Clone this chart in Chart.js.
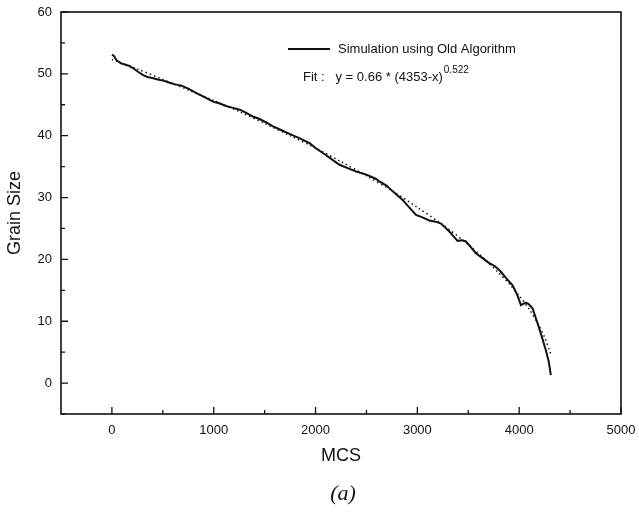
<!DOCTYPE html>
<html>
<head>
<meta charset="utf-8">
<script src="https://cdn.jsdelivr.net/npm/chart.js@4/dist/chart.umd.min.js"></script>
<style>
  html, body { margin: 0; padding: 0; background: #fff; }
  #wrap { position: relative; width: 639px; height: 517px; }
  #caption {
    position: absolute; left: 0; width: 686px; top: 480px;
    text-align: center; font: italic 22px "Liberation Serif", "DejaVu Serif", serif; color: #111;
  }
</style>
</head>
<body>
<div id="wrap">
  <canvas id="grainChart" width="639" height="517"></canvas>
  <div id="caption">(a)</div>
</div>
<script>
  // simulation curve
  const simX = [0, 20, 46, 90, 127, 170, 209, 260, 307, 350, 405, 450, 503, 560, 620, 683, 750, 830, 900, 993,
    1060, 1120, 1189, 1255, 1320, 1386, 1450, 1520, 1582, 1650, 1745, 1840, 1941, 2000, 2072, 2150, 2235, 2310,
    2399, 2500, 2595, 2627, 2700, 2758, 2856, 2920, 2987, 3050, 3118, 3180, 3232, 3314, 3395, 3440, 3477, 3575,
    3640, 3706, 3760, 3804, 3820, 3870, 3935, 3980, 4017, 4040, 4066, 4090, 4131, 4170, 4213, 4262, 4290, 4311];
  const simY = [53.1, 52.9, 52.2, 51.7, 51.5, 51.3, 50.9, 50.3, 49.8, 49.5, 49.3, 49.1, 48.9, 48.6, 48.3, 48.1,
    47.6, 46.9, 46.3, 45.5, 45.2, 44.8, 44.5, 44.2, 43.7, 43.1, 42.7, 42.1, 41.5, 41.0, 40.3, 39.6, 38.8, 38.0,
    37.2, 36.3, 35.3, 34.8, 34.2, 33.7, 33.0, 32.6, 31.9, 31.0, 29.6, 28.4, 27.2, 26.8, 26.3, 26.1, 25.8, 24.5,
    23.0, 23.1, 22.9, 21.0, 20.2, 19.4, 18.9, 18.3, 18.0, 17.0, 15.8, 14.3, 12.6, 12.8, 13.0, 12.8, 12.1, 10.2,
    8.0, 5.3, 3.5, 1.3];

  // dotted fit curve
  const fitX = [0, 250, 500, 750, 1000, 1250, 1500, 1750, 2000, 2250, 2500, 2750, 3000, 3250, 3500, 3650, 3800,
    3900, 4000, 4100, 4200, 4250, 4300, 4310];
  const fitY = [52.3, 50.8, 49.1, 47.4, 45.7, 43.9, 42.0, 40.0, 38.0, 35.8, 33.5, 31.1, 28.4, 25.6, 22.4, 20.2,
    17.8, 16.1, 14.1, 11.9, 9.1, 7.4, 5.2, 4.7];

  const xTicks = [0, 1000, 2000, 3000, 4000, 5000];
  const xMinor = [500, 1500, 2500, 3500, 4500];
  const yTicks = [0, 10, 20, 30, 40, 50, 60];
  const yMinor = [-5, 5, 15, 25, 35, 45, 55];

  const seriesLabel = 'Simulation using Old Algorithm';
  const fitLabel = 'Fit :   y = 0.66 * (4353-x)';
  const fitExp = '0.522';

  const toPoints = (xs, ys) => xs.map((x, i) => ({ x, y: ys[i] }));
  const font = '"Liberation Sans", Arial, sans-serif';

  const frameAndTicks = {
    id: 'frameAndTicks',
    afterDraw(chart) {
      const { ctx, chartArea: a, scales } = chart;
      ctx.save();
      ctx.strokeStyle = '#111';
      ctx.lineWidth = 1.6;
      ctx.strokeRect(a.left, a.top, a.right - a.left, a.bottom - a.top);

      ctx.lineWidth = 1.3;
      ctx.beginPath();
      xTicks.concat(xMinor).forEach(v => {
        const px = scales.x.getPixelForValue(v);
        const len = xTicks.includes(v) ? 7 : 4;
        ctx.moveTo(px, a.bottom); ctx.lineTo(px, a.bottom - len);
      });
      yTicks.concat(yMinor).forEach(v => {
        const py = scales.y.getPixelForValue(v);
        const len = yTicks.includes(v) ? 7 : 4;
        ctx.moveTo(a.left, py); ctx.lineTo(a.left + len, py);
      });
      ctx.stroke();

      // legend block
      ctx.lineWidth = 2;
      ctx.beginPath();
      ctx.moveTo(288, 49); ctx.lineTo(330, 49);
      ctx.stroke();
      ctx.fillStyle = '#111';
      ctx.textBaseline = 'middle';
      ctx.font = '13px ' + font;
      ctx.fillText(seriesLabel, 338, 49);
      ctx.fillText(fitLabel, 303, 77);
      const w = ctx.measureText(fitLabel).width;
      ctx.font = '10px ' + font;
      ctx.fillText(fitExp, 303 + w + 1, 70);
      ctx.restore();
    }
  };

  new Chart(document.getElementById('grainChart'), {
    type: 'scatter',
    data: {
      datasets: [
        {
          label: seriesLabel,
          data: toPoints(simX, simY),
          showLine: true,
          borderColor: '#111',
          borderWidth: 2,
          pointRadius: 0,
          tension: 0
        },
        {
          label: 'Fit',
          data: toPoints(fitX, fitY),
          showLine: true,
          borderColor: '#111',
          borderWidth: 1.5,
          borderDash: [1.5, 3],
          pointRadius: 0,
          tension: 0.3
        }
      ]
    },
    options: {
      responsive: false,
      animation: false,
      layout: { padding: { left: 0, top: 12, right: 18, bottom: 46 } },
      plugins: { legend: { display: false }, tooltip: { enabled: false } },
      scales: {
        x: {
          type: 'linear',
          min: -500,
          max: 5000,
          afterBuildTicks: s => { s.ticks = xTicks.map(v => ({ value: v })); },
          afterFit: s => { s.height = 57; s.paddingLeft = 0; s.paddingRight = 0; },
          grid: { display: false, drawTicks: false },
          border: { display: false },
          ticks: { color: '#111', font: { family: font, size: 13 }, padding: 9, maxRotation: 0, callback: v => String(v) },
          title: { display: true, text: 'MCS', color: '#111', font: { family: font, size: 18 }, padding: { top: 4, bottom: 4 } }
        },
        y: {
          type: 'linear',
          min: -5,
          max: 60,
          afterBuildTicks: s => { s.ticks = yTicks.map(v => ({ value: v })); },
          afterFit: s => { s.width = 61; s.paddingTop = 0; s.paddingBottom = 0; },
          grid: { display: false, drawTicks: false },
          border: { display: false },
          ticks: { color: '#111', font: { family: font, size: 13 }, padding: 9, callback: v => String(v) },
          title: { display: true, text: 'Grain Size', color: '#111', font: { family: font, size: 18 }, padding: { top: 4, bottom: 4 } }
        }
      }
    },
    plugins: [frameAndTicks]
  });
</script>
</body>
</html>
